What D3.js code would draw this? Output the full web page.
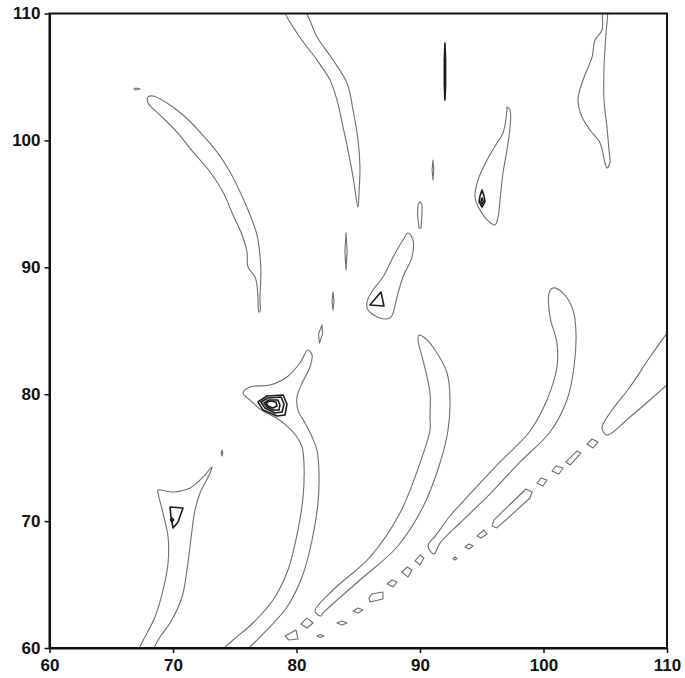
<!DOCTYPE html>
<html>
<head>
<meta charset="utf-8">
<script src="https://cdn.jsdelivr.net/npm/d3@7"></script>
<style>
  html, body { margin: 0; padding: 0; background: #fff; }
  svg { display: block; }
  .tick text { font-family: "Liberation Sans", Arial, Helvetica, sans-serif; font-size: 17px; font-weight: bold; fill: #111; }
</style>
</head>
<body>
<script>
// Axis ticks (both axes share the 60–110 range)
const xTicks = [60, 70, 80, 90, 100, 110];
const yTicks = [60, 70, 80, 90, 100, 110];

// Contour outlines, in axis units [x, y]
// lowest level: ridges and islands
const ridgeUpperLeft = [[67.98,103.42],[68.38,103.50],[69.51,102.95],[70.81,102.00],[72.19,100.66],[73.56,99.09],[74.62,97.51],[75.43,95.93],[76.24,94.12],[76.80,92.55],[77.04,90.97],[77.12,89.63],[77.04,87.58],[77.04,86.48],[76.96,86.48],[76.88,87.58],[76.80,88.61],[76.64,89.24],[76.07,90.02],[75.99,91.21],[75.59,92.55],[74.86,94.12],[74.05,95.93],[73.00,97.51],[71.62,99.09],[70.32,100.66],[68.95,102.00],[67.98,102.95]];
const ridgeUpperMid = [[79.07,110.3],[80.04,108.46],[81.66,106.33],[82.71,104.76],[83.28,103.18],[83.77,101.05],[84.17,99.24],[84.58,97.11],[84.98,94.75],[85.06,95.85],[85.14,97.90],[84.98,100.03],[84.58,102.39],[84.09,104.52],[82.96,106.33],[81.66,108.15],[80.53,110.3]];
const ridgeUpperRight = [[104.82,110.3],[104.74,108.70],[104.17,107.91],[103.93,106.57],[103.20,104.76],[102.79,103.18],[103.12,101.84],[103.77,100.82],[104.58,99.79],[104.98,98.22],[105.14,97.82],[105.38,98.22],[105.30,99.24],[105.14,101.05],[104.90,103.18],[104.90,105.78],[105.06,108.46],[105.14,110.3]];
const peak95Outer = [[97.04,102.63],[97.04,102.39],[96.72,100.58],[96.23,99.79],[95.43,98.45],[94.70,96.88],[94.45,95.54],[94.86,94.51],[95.43,93.73],[96.07,93.33],[96.32,93.96],[96.48,95.30],[96.72,97.43],[97.04,99.24],[97.29,101.05],[97.29,102.39]];
const peak87Outer = [[89.03,92.70],[89.43,92.15],[89.35,90.81],[88.62,89.24],[88.14,87.66],[87.82,86.40],[87.57,86.00],[86.76,86.00],[85.79,86.63],[85.71,87.27],[86.19,88.21],[87.0,89.24],[87.82,90.81],[88.62,92.15]];
const ridgeMid = [[89.92,84.66],[90.40,84.43],[91.05,83.72],[92.19,81.67],[92.43,79.54],[92.27,77.18],[91.62,74.58],[90.24,71.11],[88.14,67.96],[85.14,65.36],[82.15,62.76],[81.98,62.52],[81.50,62.92],[82.96,64.57],[85.95,67.17],[88.38,70.64],[90.0,74.58],[90.81,77.18],[90.81,78.20],[90.81,80.09],[90.24,82.69],[89.84,84.27]];
const ridgeRight = [[100.77,88.37],[101.58,87.97],[102.39,86.63],[102.63,84.82],[102.47,82.14],[101.90,79.54],[100.53,77.02],[98.10,74.66],[95.67,72.14],[93.24,69.85],[91.62,68.27],[91.13,67.41],[90.65,68.04],[91.30,68.90],[92.43,70.40],[94.05,72.14],[96.48,74.66],[98.91,77.10],[100.28,79.54],[101.09,82.14],[101.09,84.03],[100.53,86.08],[100.45,87.97]];

// contours that run off the plot edge
const peak79Outer = [[73.81,59.7],[74.86,60.63],[76.48,61.97],[78.10,63.78],[79.31,66.15],[80.12,69.30],[80.53,71.90],[80.61,74.42],[80.45,75.84],[80.04,76.63],[79.39,77.34],[78.50,78.05],[77.04,78.83],[76.24,79.54],[75.67,80.09],[76.24,80.57],[77.85,80.72],[79.23,81.36],[80.28,82.46],[80.93,83.48],[81.26,83.09],[81.09,82.14],[80.45,80.88],[80.04,79.78],[80.12,78.75],[80.69,77.73],[81.26,76.63],[81.66,75.60],[81.82,73.79],[81.74,71.43],[81.26,68.51],[80.45,65.59],[79.23,63.23],[77.61,61.42],[75.83,59.7]];
const peak70Outer = [[67.09,59.7],[67.90,61.18],[68.54,62.44],[69.19,64.57],[69.60,66.70],[69.60,68.75],[69.19,70.64],[68.79,72.21],[68.79,72.45],[70.0,72.29],[71.38,72.61],[72.43,73.47],[73.16,74.26],[73.0,73.79],[72.19,72.21],[71.78,70.87],[71.54,69.30],[71.21,66.70],[70.73,64.02],[69.76,61.97],[68.95,60.87],[68.30,59.7]];
const ridgeEdge = [[110.3,85.2],[108.62,82.93],[107.0,80.57],[105.38,78.52],[104.74,77.34],[105.14,76.78],[107.0,78.20],[108.62,79.54],[110.3,81.0]];

// small islands and streaks
const islandSmall = [[66.84,104.05],[67.0,104.13],[67.33,104.05],[67.0,103.97]];
const streak91a = [[91.05,98.45],[91.12,97.67],[91.05,96.88],[90.98,97.67]];
const streak90 = [[90.0,95.15],[90.16,94.95],[90.16,94.12],[90.08,93.10],[89.92,93.10],[89.80,94.12],[89.84,94.95]];
const streak84 = [[84.01,92.70],[84.10,91.28],[84.01,89.79],[83.92,91.28]];
const streak83 = [[82.96,88.05],[83.04,87.34],[82.96,86.63],[82.88,87.34]];
const streak82 = [[82.07,85.45],[82.10,84.74],[81.86,84.03],[81.78,84.74]];
const speck74 = [[73.97,75.6],[74.04,75.37],[73.97,75.13],[73.90,75.37]];

// diagonal chain of small islands
const chain = [
  [[79.07,60.95],[79.96,61.42],[80.12,60.71],[79.39,60.63]],
  [[80.36,61.89],[80.85,62.36],[81.34,61.97],[80.85,61.58]],
  [[81.66,60.95],[81.90,61.06],[82.23,60.95],[81.90,60.83]],
  [[83.28,61.97],[83.68,62.13],[84.09,61.97],[83.68,61.81]],
  [[84.58,62.92],[84.98,63.15],[85.38,62.99],[84.98,62.76]],
  [[85.87,63.94],[86.11,64.26],[87.0,64.41],[87.0,63.86],[85.95,63.62]],
  [[87.33,65.04],[87.73,65.36],[88.14,65.20],[87.82,64.81]],
  [[88.54,65.99],[88.95,66.38],[89.35,66.15],[89.03,65.59]],
  [[89.60,66.86],[90.0,67.33],[90.32,67.09],[90.0,66.54]],
  [[92.67,67.05],[92.83,67.17],[92.99,67.05],[92.83,66.93]],
  [[93.64,67.96],[93.97,68.20],[94.29,68.04],[93.97,67.80]],
  [[94.62,68.83],[95.18,69.30],[95.43,68.98],[94.94,68.67]],
  [[95.83,69.61],[95.99,70.09],[98.58,72.53],[99.07,72.29],[98.91,71.82],[96.23,69.46]],
  [[99.47,73.0],[99.80,73.40],[100.28,73.24],[99.96,72.77]],
  [[100.69,73.95],[101.01,74.34],[101.58,74.18],[101.25,73.71]],
  [[101.82,74.66],[102.71,75.52],[103.04,75.37],[102.15,74.42]],
  [[103.52,76.08],[103.93,76.47],[104.41,76.23],[104.01,75.76]]
];

// higher levels: peak cores
const streak92 = [[92.02,107.67],[92.07,106.33],[92.07,104.37],[92.02,103.18],[91.97,104.37],[91.97,106.33]];
const peak95Core = [[95.02,96.09],[95.18,95.62],[95.26,95.15],[95.02,94.75],[94.78,95.15],[94.86,95.62]];
const peak95Top = [[95.02,95.46],[95.12,95.15],[95.02,94.98],[94.92,95.15]];
const peak87Core = [[85.95,87.03],[86.84,88.05],[87.08,86.95]];
const peak79Level2 = [[76.88,79.39],[77.61,79.86],[78.91,79.94],[79.23,79.23],[79.07,78.36],[78.42,78.28],[77.29,78.75]];
const peak79Level3 = [[77.12,79.39],[77.69,79.70],[78.75,79.78],[78.99,79.23],[78.83,78.60],[78.26,78.52],[77.45,78.91]];
const peak79Level4 = [[77.37,79.31],[77.77,79.54],[78.50,79.54],[78.66,79.15],[78.58,78.75],[78.10,78.75],[77.61,78.99]];
const peak79Level5 = [[77.53,79.31],[77.85,79.46],[78.34,79.39],[78.42,79.07],[78.10,78.91],[77.69,79.07]];
const peak70Core = [[69.76,71.11],[70.81,71.03],[70.41,69.93],[70.0,69.46],[69.84,70.32]];
const peak70Top = [[69.92,70.24],[70.05,70.10],[69.92,69.93],[69.80,70.10]];

const smoothClosed = [ridgeUpperLeft, ridgeUpperMid, ridgeUpperRight, peak95Outer, peak87Outer, ridgeMid, ridgeRight];
const smoothOpen = [peak79Outer, peak70Outer, ridgeEdge];
const islands = [islandSmall, streak91a, streak90, streak84, streak83, streak82, speck74, ...chain];
const cores = [streak92, peak95Core, peak95Top, peak87Core,
  peak79Level2, peak79Level3, peak79Level4, peak79Level5, peak70Core, peak70Top];

const W = 685, H = 678;
const x = d3.scaleLinear().domain([60, 110]).range([49.5, 667]);
const y = d3.scaleLinear().domain([60, 110]).range([648, 13.5]);

const svg = d3.select("body").append("svg").attr("width", W).attr("height", H);

svg.append("defs").append("clipPath").attr("id", "plot")
  .append("rect")
  .attr("x", x(60)).attr("y", y(110))
  .attr("width", x(110) - x(60)).attr("height", y(60) - y(110));

const px = d => x(d[0]), py = d => y(d[1]);
const smoothClosedLine = d3.line().x(px).y(py).curve(d3.curveCatmullRomClosed.alpha(0.5));
const smoothOpenLine = d3.line().x(px).y(py).curve(d3.curveCatmullRom.alpha(0.5));
const closedLine = d3.line().x(px).y(py).curve(d3.curveLinearClosed);

const g = svg.append("g").attr("clip-path", "url(#plot)")
  .attr("fill", "none").attr("stroke-linejoin", "round");

const lowStroke = "#6e6e6e";

g.selectAll("path.smooth-closed").data(smoothClosed).join("path")
  .attr("class", "smooth-closed").attr("d", smoothClosedLine)
  .attr("stroke", lowStroke).attr("stroke-width", 1.1);

g.selectAll("path.smooth-open").data(smoothOpen).join("path")
  .attr("class", "smooth-open").attr("d", smoothOpenLine)
  .attr("stroke", lowStroke).attr("stroke-width", 1.1);

g.selectAll("path.island").data(islands).join("path")
  .attr("class", "island").attr("d", closedLine)
  .attr("stroke", lowStroke).attr("stroke-width", 1.1);

g.selectAll("path.core").data(cores).join("path")
  .attr("class", "core").attr("d", closedLine)
  .attr("stroke", "#1a1a1a").attr("stroke-width", 1.6);

// frame
svg.append("rect")
  .attr("x", x(60)).attr("y", y(110))
  .attr("width", x(110) - x(60)).attr("height", y(60) - y(110))
  .attr("fill", "none").attr("stroke", "#111").attr("stroke-width", 2);

// axes
const xAxis = svg.append("g").attr("transform", `translate(0,${y(60)})`)
  .call(d3.axisBottom(x).tickValues(xTicks).tickFormat(d3.format("d")).tickSize(5).tickSizeOuter(0).tickPadding(6));
const yAxis = svg.append("g").attr("transform", `translate(${x(60)},0)`)
  .call(d3.axisLeft(y).tickValues(yTicks).tickFormat(d3.format("d")).tickSize(5).tickSizeOuter(0).tickPadding(4));

[xAxis, yAxis].forEach(a => {
  a.select(".domain").attr("stroke", "#111").attr("stroke-width", 2);
  a.selectAll(".tick line").attr("stroke", "#111").attr("stroke-width", 1.5);
  a.attr("font-family", null).attr("font-size", null);
});
</script>
</body>
</html>
